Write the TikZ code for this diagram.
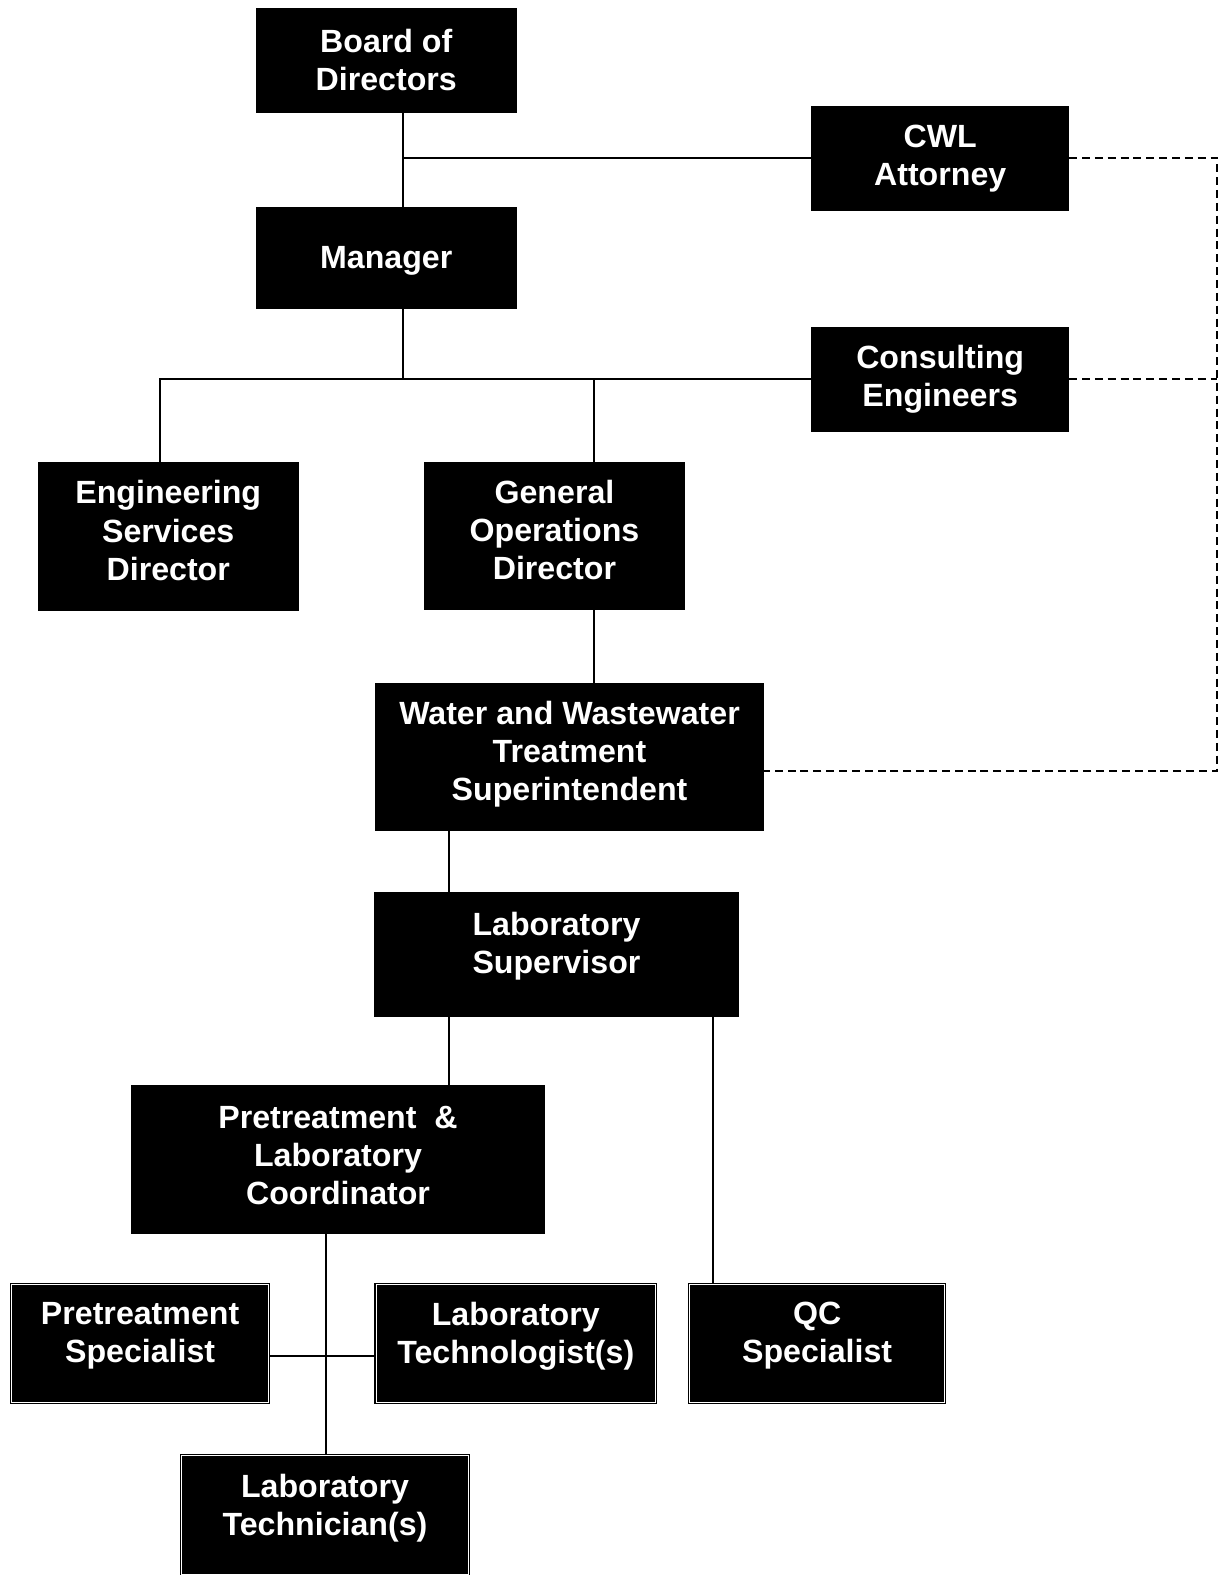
\documentclass[tikz,border=0pt]{standalone}
\usepackage{fontspec}
\setmainfont{Liberation Sans}
\usepackage{tikz}

\tikzset{
    box/.style={fill=black, draw=black, text=white, align=center, inner sep=0pt,
        font=\bfseries\fontsize{16}{19}\selectfont},
    framedbox/.style={box, line width=0.6pt, double=white, double distance=0.5pt},
    link/.style={line width=1pt},
    dashlink/.style={line width=1pt, dash pattern=on 4pt off 2.4pt},
}

\begin{document}
\begin{tikzpicture}[x=0.5pt, y=-0.5pt]
        \useasboundingbox (0,0) rectangle (1217,1568);

        % Boxes
        \node[box, minimum width=129.5pt, minimum height=52pt] (board) at (384.5,60) {Board of\\Directors};
        \node[box, minimum width=128pt, minimum height=51.5pt] (cwl) at (936,157.5) {CWL\\Attorney};
        \node[box, minimum width=129.5pt, minimum height=50.5pt, text depth=0.5pt] (manager) at (384.5,256.5) {Manager};
        \node[box, minimum width=128pt, minimum height=51.5pt] (consult) at (936,377.5) {Consulting\\Engineers};
        \node[box, minimum width=129.5pt, minimum height=74pt, text depth=6pt] (eng) at (167.5,534) {Engineering\\Services\\Director};
        \node[box, minimum width=129pt, minimum height=73.5pt, text depth=6pt] (genops) at (552,533.5) {General\\Operations\\Director};
        \node[box, minimum width=193pt, minimum height=73.5pt, text depth=6pt] (super) at (567,753.5) {Water and Wastewater\\Treatment\\Superintendent};
        \node[box, minimum width=181pt, minimum height=62pt, text depth=11.5pt] (labsup) at (554,950) {Laboratory\\Supervisor};
        \node[box, minimum width=205.5pt, minimum height=73.5pt, text depth=4pt] (coord) at (336.5,1154.5) {Pretreatment\ \ \&\\Laboratory\\Coordinator};
        \node[framedbox, minimum width=128pt, minimum height=59pt, text depth=11pt] (pspec) at (139.5,1337.5) {Pretreatment\\Specialist};
        \node[framedbox, minimum width=139pt, minimum height=59pt, text depth=11pt] (techno) at (513.5,1337.5) {Laboratory\\Technologist(s)};
        \node[framedbox, minimum width=127pt, minimum height=59pt, text depth=11pt] (qc) at (813.5,1337.5) {QC\\Specialist};
        \node[framedbox, minimum width=143pt, minimum height=59pt, text depth=10pt] (techn) at (323.5,1508) {Laboratory\\Technician(s)};

        % Drop lines
        \coordinate (trunkA) at (401,0);
        \coordinate (trunkB) at (591,0);
        \coordinate (trunkC) at (447,0);
        \coordinate (trunkD) at (710,0);
        \coordinate (trunkE) at (325,0);
        \coordinate (trunkF) at (159,0);
        \coordinate (dashX) at (1212,0);

        \draw[link] (board.south -| trunkA) -- (manager.north -| trunkA);
        \draw[link] (cwl.west) -- (cwl.west -| trunkA);
        \draw[link] (manager.south -| trunkA) -- (consult.west -| trunkA);
        \draw[link] (eng.north -| trunkF) |- (consult.west);
        \draw[link] (genops.north -| trunkB) -- (consult.west -| trunkB);
        \draw[link] (genops.south -| trunkB) -- (super.north -| trunkB);
        \draw[link] (super.south -| trunkC) -- (labsup.north -| trunkC);
        \draw[link] (labsup.south -| trunkC) -- (coord.north -| trunkC);
        \draw[link] (labsup.south -| trunkD) -- (qc.north -| trunkD);
        \draw[link] (coord.south -| trunkE) -- (techn.north -| trunkE);
        \draw[link] ([yshift=-6pt]pspec.east) -- ([yshift=-6pt]techno.west);

        % Advisory lines
        \draw[dashlink] (cwl.east) -| ([yshift=-7pt]super.east -| dashX) -- ([yshift=-7pt]super.east);
        \draw[dashlink] (consult.east) -- (consult.east -| dashX);

    \end{tikzpicture}
\end{document}
